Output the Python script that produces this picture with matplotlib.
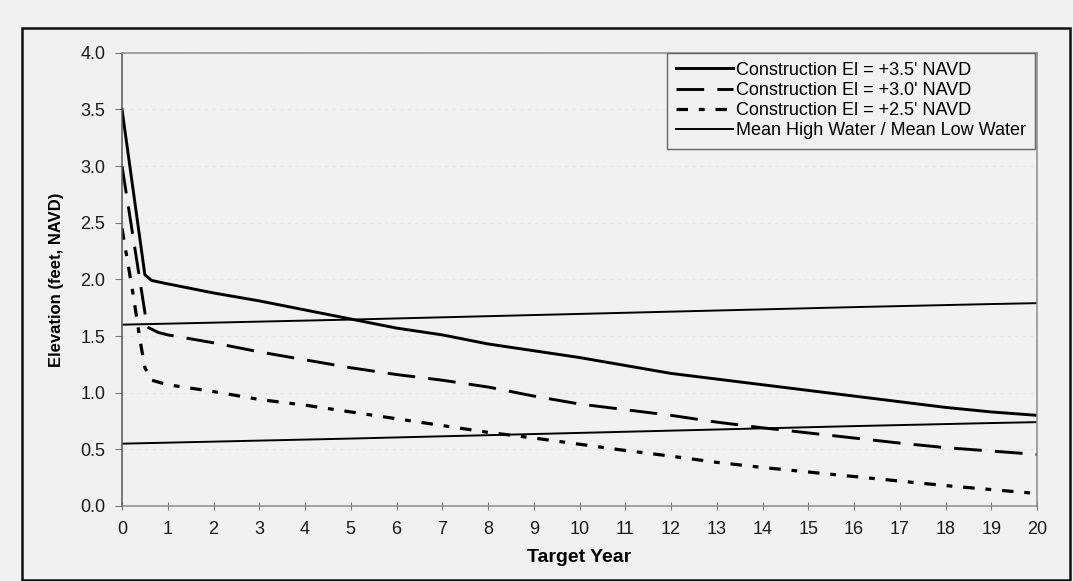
import matplotlib.pyplot as plt
from matplotlib.patches import Rectangle

# construction curves
x_35 = [0, 0.5, 0.65, 1, 2, 3, 4, 5, 6, 7, 8, 9, 10, 11, 12, 13, 14, 15, 16, 17, 18, 19, 20]
y_35 = [3.5, 2.04, 1.99, 1.96, 1.88, 1.81, 1.73, 1.65, 1.57, 1.51, 1.43, 1.37, 1.31,
        1.24, 1.17, 1.12, 1.07, 1.02, 0.97, 0.92, 0.87, 0.83, 0.80]

x_30 = [0, 0.55, 0.8, 1, 2, 3, 4, 5, 6, 7, 8, 9, 10, 11, 12, 13, 14, 15, 16, 17, 18, 19, 20]
y_30 = [3.0, 1.58, 1.53, 1.51, 1.44, 1.36, 1.29, 1.22, 1.16, 1.11, 1.05, 0.97, 0.90,
        0.85, 0.80, 0.74, 0.69, 0.645, 0.60, 0.555, 0.515, 0.485, 0.455]

x_25 = [0, 0.25, 0.4, 0.5, 0.65, 1, 2, 3, 4, 5, 6, 7, 8, 9, 10, 11, 12, 13, 14, 15, 16, 17, 18, 19, 20]
y_25 = [2.45, 1.85, 1.45, 1.22, 1.11, 1.07, 1.01, 0.94, 0.89, 0.83, 0.77, 0.71, 0.65,
        0.60, 0.545, 0.49, 0.44, 0.385, 0.34, 0.30, 0.26, 0.22, 0.18, 0.145, 0.11]

# tide levels
years = list(range(0, 21))
mhw = [1.600, 1.609, 1.618, 1.627, 1.636, 1.645, 1.655, 1.665, 1.675, 1.685, 1.695,
       1.705, 1.715, 1.725, 1.735, 1.745, 1.755, 1.764, 1.773, 1.782, 1.790]
mlw = [0.550, 0.559, 0.568, 0.577, 0.586, 0.595, 0.605, 0.615, 0.625, 0.635, 0.645,
       0.655, 0.665, 0.675, 0.685, 0.695, 0.705, 0.714, 0.723, 0.732, 0.740]

labels = ["Construction El = +3.5' NAVD", "Construction El = +3.0' NAVD",
          "Construction El = +2.5' NAVD", "Mean High Water / Mean Low Water"]

plt.rcParams['font.family'] = ['Liberation Sans', 'DejaVu Sans']
bg = '#f1f1f1'

fig = plt.figure(figsize=(10.73, 5.81), dpi=100, facecolor=bg)
ax = fig.add_axes([122 / 1073, 1 - 506 / 581, (1037 - 122) / 1073, (506 - 52.7) / 581])
ax.set_facecolor(bg)

# outer frame around the whole chart
fig.patches.append(Rectangle((22 / 1073, 1 / 581), (1070 - 22) / 1073, (580 - 28) / 581,
                             transform=fig.transFigure, fill=False, edgecolor='#111111',
                             linewidth=1.8, zorder=0))

ax.plot(x_35, y_35, color='black', lw=2.1, label=labels[0], solid_joinstyle='round')
ax.plot(x_30, y_30, color='black', lw=2.1, dashes=(9.5, 4.5), label=labels[1])
ax.plot(x_25, y_25, color='black', lw=2.3, dashes=(3.6, 3.4, 1.8, 3.4), label=labels[2])
ax.plot(years, mhw, color='black', lw=1.4, label=labels[3])
ax.plot(years, mlw, color='black', lw=1.4)

ax.set_xlim(0, 20)
ax.set_ylim(0, 4.0)
ax.set_xticks(range(0, 21))
ax.set_yticks([0, 0.5, 1.0, 1.5, 2.0, 2.5, 3.0, 3.5, 4.0])
ax.set_yticklabels(['%.1f' % v for v in ax.get_yticks()])

ax.yaxis.grid(True, color='#e3e3e3', linestyle=(0, (3, 3)), lw=0.9)
ax.set_axisbelow(True)

for side in ['top', 'right', 'bottom']:
    ax.spines[side].set_color('#8c8c8c')
    ax.spines[side].set_linewidth(1.1)
ax.spines['left'].set_color('#555555')
ax.spines['left'].set_linewidth(1.1)

ax.tick_params(axis='x', direction='inout', length=6, color='#777777',
               labelsize=13, labelcolor='#1a1a1a', pad=8)
ax.tick_params(axis='y', direction='out', length=5, color='#777777',
               labelsize=13, labelcolor='#1a1a1a', pad=7)

ax.set_xlabel('Target Year', fontsize=14, fontweight='bold', labelpad=8)
ax.set_ylabel('Elevation (feet, NAVD)', fontsize=12, fontweight='bold', labelpad=12)

leg = ax.legend(loc='upper right', bbox_to_anchor=(0.998, 1.0), fontsize=13,
                frameon=True, fancybox=False, edgecolor='#666666', facecolor=bg,
                framealpha=1, handlelength=3.2, handletextpad=0.15,
                labelspacing=0.18, borderpad=0.5, borderaxespad=0.0)
leg.get_frame().set_linewidth(1.0)

fig.savefig('out.png', dpi=100, facecolor=bg)
